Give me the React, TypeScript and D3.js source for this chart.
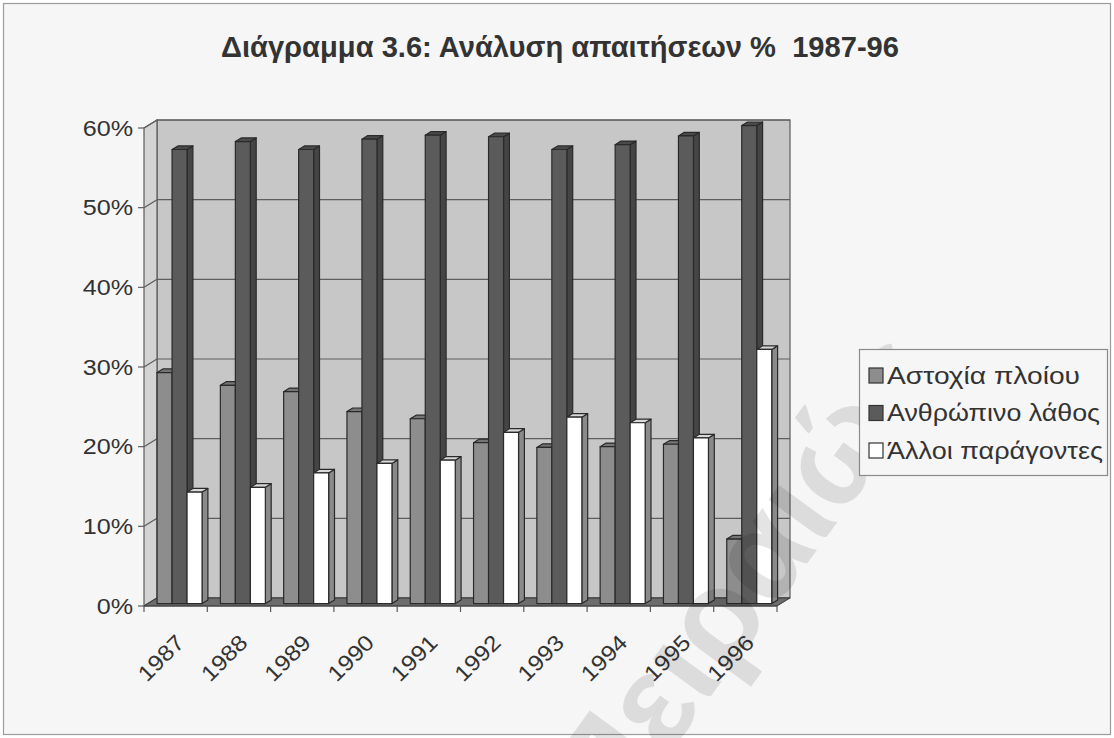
import React from 'react';
import * as d3 from 'd3';

const years = ['1987', '1988', '1989', '1990', '1991', '1992', '1993', '1994', '1995', '1996'];
const seriesNames = ['Αστοχία πλοίου', 'Ανθρώπινο λάθος', 'Άλλοι παράγοντες'];
const shipFailure = [29, 27.4, 26.6, 24.1, 23.2, 20.2, 19.6, 19.7, 20, 8.1];
const humanError = [57, 58, 57, 58.3, 58.8, 58.6, 57, 57.6, 58.7, 60];
const otherFactors = [14, 14.6, 16.4, 17.6, 18, 21.5, 23.4, 22.7, 20.8, 31.9];
const yTicks = [0, 10, 20, 30, 40, 50, 60];
const titleText = 'Διάγραμμα 3.6: Ανάλυση απαιτήσεων %  1987-96';
const watermarkText = 'Πειραιώς';

const W = 1114;
const H = 738;
const FONT = "'Liberation Sans', Arial, Helvetica, sans-serif";

const seriesValues = [shipFailure, humanError, otherFactors];
const seriesFront = ['#8d8d8d', '#5b5b5b', '#ffffff'];
const seriesSide = ['#6c6c6c', '#454545', '#8a8a8a'];
const seriesTop = ['#757575', '#4a4a4a', '#d8d8d8'];
const legendLens = [193, 213, 216];

export default function App() {
  const X0 = 144, X1 = 777;
  const DX = 13, DY = -8;
  const y = d3.scaleLinear().domain([0, 60]).range([606, 128]);
  const x = d3.scaleBand<string>().domain(years).range([X0, X1]);
  const bw = x.bandwidth();
  const xs = d3.scaleBand<string>().domain(seriesNames).range([0, bw]).paddingInner(0).paddingOuter(0.61);
  const w = xs.bandwidth();
  const d0 = 0.3, dd = 0.45;
  const ox = DX * d0, oy = DY * d0;
  const bx = DX * dd, by = DY * dd;

  const pts = (a: number[][]) => a.map(p => p.join(',')).join(' ');

  const bars: React.ReactNode[] = [];
  years.forEach((yr, i) => {
    seriesNames.forEach((s, k) => {
      const v = seriesValues[k][i];
      const fx = (x(yr) as number) + (xs(s) as number) + ox;
      const fyb = y(0) + oy;
      const fyt = y(v) + oy;
      bars.push(
        <g key={yr + s} stroke="#2a2a2a" strokeWidth={1.2} strokeLinejoin="round">
          <polygon points={pts([[fx + w, fyb], [fx + w, fyt], [fx + w + bx, fyt + by], [fx + w + bx, fyb + by]])} fill={seriesSide[k]} />
          <polygon points={pts([[fx, fyt], [fx + w, fyt], [fx + w + bx, fyt + by], [fx + bx, fyt + by]])} fill={seriesTop[k]} />
          <rect x={fx} y={fyt} width={w} height={fyb - fyt} fill={seriesFront[k]} />
        </g>
      );
    });
  });

  const backL = X0 + DX, backR = X1 + DX;

  return (
    <svg width={W} height={H} style={{ position: 'absolute', left: 0, top: 0, background: '#ffffff' }} fontFamily={FONT}>
      <rect x={3.5} y={3.5} width={1107} height={731} fill="#f6f6f6" stroke="#9c9c9c" strokeWidth={1.2} />
      <text x={560} y={57} textAnchor="middle" fontSize={29} fontWeight="bold" fill="#333" textLength={678} lengthAdjust="spacingAndGlyphs" style={{ whiteSpace: 'pre' }} xmlSpace="preserve">{titleText}</text>

      <rect x={backL} y={y(60) + DY} width={backR - backL} height={y(0) - y(60)} fill="#c7c7c7" stroke="#5a5a5a" strokeWidth={1.2} />
      <polygon points={pts([[X0, y(0)], [X0, y(60)], [backL, y(60) + DY], [backL, y(0) + DY]])} fill="#d3d3d3" stroke="#5a5a5a" strokeWidth={1.2} />
      {yTicks.map(t => (
        <g key={'g' + t} stroke="#5e5e5e" strokeWidth={1.2}>
          <line x1={backL} x2={backR} y1={y(t) + DY} y2={y(t) + DY} />
          <line x1={X0} x2={backL} y1={y(t)} y2={y(t) + DY} />
          <line x1={X0 - 6} x2={X0} y1={y(t)} y2={y(t)} />
        </g>
      ))}
      <polygon points={pts([[X0, y(0)], [X1, y(0)], [backR, y(0) + DY], [backL, y(0) + DY]])} fill="#6c6c6c" stroke="#3a3a3a" strokeWidth={1} />

      {bars}

      {d3.range(years.length + 1).map(i => {
        const tx = X0 + i * bw;
        return <line key={'t' + i} x1={tx} x2={tx} y1={y(0)} y2={y(0) + 6} stroke="#5a5a5a" strokeWidth={1.2} />;
      })}
      <line x1={X0} x2={X1} y1={y(0)} y2={y(0)} stroke="#4a4a4a" strokeWidth={1.2} />

      {yTicks.map(t => (
        <text key={'yl' + t} transform={`translate(133,${y(t) + 7.8}) scale(1.17,1)`} textAnchor="end" fontSize={21.5} fill="#333">{t + '%'}</text>
      ))}
      {years.map(yr => (
        <text key={'xl' + yr} transform={`translate(${(x(yr) as number) + bw / 2 + 10},644) rotate(-45) scale(1.12,1)`} textAnchor="end" fontSize={22} fill="#333">{yr}</text>
      ))}

      <text transform="translate(612,832) rotate(-54)" fontSize={130} fill="#000" opacity={0.1} fontWeight="bold">{watermarkText}</text>

      <rect x={859.5} y={349.5} width={248} height={126} fill="#f6f6f6" stroke="#8a8a8a" strokeWidth={1.2} />
      {seriesNames.map((s, k) => {
        const cy = 375.5 + k * 37.5;
        return (
          <g key={'lg' + s}>
            <rect x={869} y={cy - 7.5} width={14} height={15} fill={seriesFront[k]} stroke="#333" strokeWidth={1.2} />
            <text x={887} y={cy + 8} fontSize={24.5} fill="#333" textLength={legendLens[k]} lengthAdjust="spacingAndGlyphs">{s}</text>
          </g>
        );
      })}
    </svg>
  );
}
